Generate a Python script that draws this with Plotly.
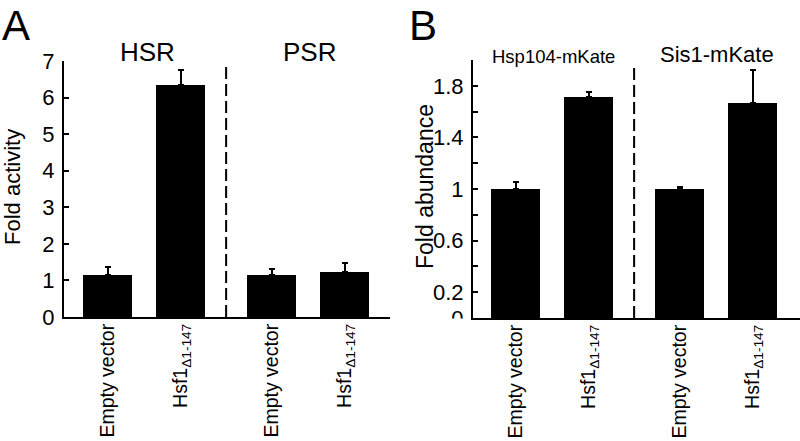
import plotly.graph_objects as go

# ---------------- data ----------------
conditions = ["Empty vector", "Hsf1<sub>Δ1-147</sub>"]

groups_A = ["HSR", "PSR"]
values_A = [1.15, 6.35, 1.15, 1.24]
errors_A = [0.22, 0.40, 0.16, 0.24]

groups_B = ["Hsp104-mKate", "Sis1-mKate"]
values_B = [1.00, 1.71, 1.00, 1.67]
errors_B = [0.055, 0.04, 0.013, 0.25]

yticks_A = [0, 1, 2, 3, 4, 5, 6, 7]
yticks_B = [0, 0.2, 0.4, 0.6, 0.8, 1.0, 1.2, 1.4, 1.6, 1.8, 2.0]
yticktext_B = ["0", "0.2", "", "0.6", "", "1", "", "1.4", "", "1.8", ""]

# ---------------- layout helpers ----------------
W, H = 800, 441
FONT = "Arial, Liberation Sans, sans-serif"
GROUP_STEP = 2.25


def px_x(p):
    return p / W


def px_y(p):
    return 1 - p / H


positions = [g * GROUP_STEP + i for g in range(2) for i in range(2)]
tick_labels = [c for _ in range(2) for c in conditions]
sep_pos = (positions[1] + positions[2]) / 2

fig = go.Figure()

for vals, errs, xa, ya in [(values_A, errors_A, "x", "y"), (values_B, errors_B, "x2", "y2")]:
    fig.add_trace(go.Bar(
        x=positions, y=vals, width=0.67,
        marker=dict(color="black", line=dict(width=0)),
        error_y=dict(type="data", array=errs, arrayminus=[0] * len(errs), symmetric=False,
                     color="black", thickness=2, width=3),
        xaxis=xa, yaxis=ya, showlegend=False,
    ))

UNIT = 73.0
common_x = dict(showline=True, linecolor="black", linewidth=2, ticks="", showgrid=False,
                zeroline=False, tickmode="array", tickvals=positions, ticktext=tick_labels,
                tickangle=-90, tickfont=dict(family=FONT, size=19.5, color="black"),
                automargin=False, ticklabelstandoff=-3)
common_y = dict(showline=True, linecolor="black", linewidth=2, ticks="inside", ticklen=5,
                tickwidth=1.5, tickcolor="black", showgrid=False, zeroline=False,
                tickfont=dict(family=FONT, size=22, color="black"), ticklabelstandoff=3,
                automargin=False)

fig.update_layout(
    width=W, height=H, margin=dict(l=0, r=0, t=0, b=0, pad=0, autoexpand=False),
    paper_bgcolor="white", plot_bgcolor="white", bargap=0, showlegend=False,
    xaxis=dict(common_x, domain=[px_x(64), px_x(390)], anchor="y",
               range=[(64 - 107.5) / UNIT, (390 - 107.5) / UNIT]),
    yaxis=dict(common_y, domain=[px_y(317), px_y(61)], anchor="x", range=[0, 7],
               tickvals=yticks_A),
    xaxis2=dict(common_x, domain=[px_x(473), 1.0], anchor="y2",
                range=[(473 - 515.5) / UNIT, (800 - 515.5) / UNIT]),
    yaxis2=dict(common_y, domain=[px_y(318), px_y(60)], anchor="x2", range=[0, 2],
                tickmode="array", tickvals=yticks_B, ticktext=yticktext_B),
)

# dashed separators between groups
for xr, yr in [("x", "y domain"), ("x2", "y2 domain")]:
    fig.add_shape(type="line", xref=xr, yref=yr, x0=sep_pos, x1=sep_pos, y0=0, y1=0.985,
                  line=dict(color="black", width=2, dash="12px,5px"))

# the "0" of panel B is clipped below the axis line in the original
fig.add_shape(type="rect", xref="paper", yref="paper", layer="above",
              x0=px_x(425), x1=px_x(471), y0=px_y(334), y1=px_y(318.5),
              fillcolor="white", line=dict(width=0))


def ann(text, x, y, size, angle=0, xanchor="center", yanchor="middle"):
    fig.add_annotation(text=text, x=px_x(x), y=px_y(y), xref="paper", yref="paper",
                       showarrow=False, textangle=angle, xanchor=xanchor, yanchor=yanchor,
                       font=dict(family=FONT, size=size, color="black"))


ann("A", 0, 0, 42, xanchor="left", yanchor="top")
ann("B", 407, 0, 42, xanchor="left", yanchor="top")
ann(groups_A[0], 147, 52, 26)
ann(groups_A[1], 309, 52, 26)
ann(groups_B[0], 553, 56, 18.5)
ann(groups_B[1], 717, 55, 22)
ann("Fold activity", 13, 187, 22, angle=-90)
ann("Fold abundance", 425, 187, 23, angle=-90)

fig.write_html("out.html", config={"displayModeBar": False},
               post_script="document.body.style.margin='0px';")
